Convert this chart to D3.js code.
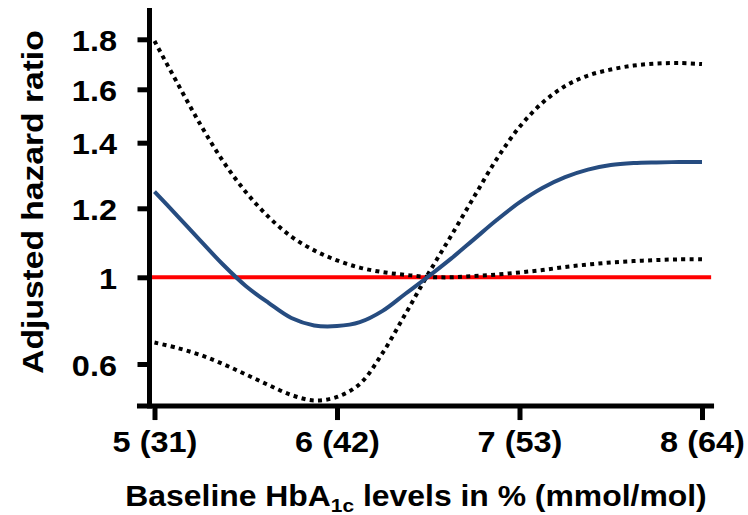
<!DOCTYPE html>
<html>
<head>
<meta charset="utf-8">
<script src="https://cdn.jsdelivr.net/npm/d3@7/dist/d3.min.js"></script>
<style>
  html, body { margin: 0; padding: 0; background: #fff; }
  svg { display: block; }
  text { font-family: "Liberation Sans", Arial, Helvetica, sans-serif; font-weight: bold; fill: #000; }
</style>
</head>
<body>
<svg id="chart" width="748" height="515"></svg>
<script>
// ---- data ----
const hba1c = [5.0, 5.125, 5.25, 5.375, 5.5, 5.625, 5.75, 5.875, 6.0, 6.125, 6.25, 6.375, 6.5,
               6.625, 6.75, 6.875, 7.0, 7.125, 7.25, 7.375, 7.5, 7.625, 7.75, 7.875, 8.0];
const hazardRatio = [1.251, 1.178, 1.107, 1.037, 0.960, 0.882, 0.812, 0.778, 0.775, 0.793, 0.845, 0.924, 1.002,
                     1.054, 1.110, 1.166, 1.218, 1.262, 1.295, 1.318, 1.332, 1.338, 1.340, 1.341, 1.341];
const ciBandA = [1.793, 1.625, 1.470, 1.344, 1.250, 1.175, 1.118, 1.078, 1.049, 1.028, 1.015, 1.007, 1.001,
                 1.000, 1.004, 1.008, 1.014, 1.021, 1.030, 1.037, 1.043, 1.047, 1.050, 1.052, 1.052];
const ciBandB = [0.699, 0.674, 0.642, 0.600, 0.552, 0.503, 0.457, 0.432, 0.448, 0.508, 0.651, 0.831, 1.010,
                 1.120, 1.234, 1.350, 1.459, 1.549, 1.613, 1.655, 1.679, 1.695, 1.703, 1.705, 1.701];
const referenceHR = 1;
const xTickValues = [5, 6, 7, 8];
const xTickLabels = ["5 (31)", "6 (42)", "7 (53)", "8 (64)"];
const yTickValues = [0.6, 1, 1.2, 1.4, 1.6, 1.8];
const yTickLabels = ["0.6", "1", "1.2", "1.4", "1.6", "1.8"];
const xAxisLimits = [4.904, 8.066];
const yAxisLimits = [0.406, 1.925];
const refLineLimits = [4.97, 8.05];

// ---- layout ----
const svg = d3.select("#chart");
const x = d3.scaleLinear().domain([5, 8]).range([154.5, 702]);
// the original axis is non-uniform: piecewise-linear between its labelled ticks
const y = d3.scaleLinear().domain(yTickValues).range([364, 277.3, 208.3, 142.7, 89.3, 39.3]);
const xAxisY = y(yAxisLimits[0]);
const yAxisX = 149.5;
const stretch = 1.12;

// reference line
svg.append("line")
  .attr("x1", x(refLineLimits[0])).attr("x2", x(refLineLimits[1]))
  .attr("y1", y(referenceHR)).attr("y2", y(referenceHR))
  .attr("stroke", "#ff0000").attr("stroke-width", 4);

const lineGen = vals => d3.line()
  .x((d, i) => x(hba1c[i]))
  .y(d => y(d))
  .curve(d3.curveCatmullRom.alpha(0.5))(vals);

[ciBandA, ciBandB].forEach(vals => {
  svg.append("path")
    .attr("d", lineGen(vals))
    .attr("fill", "none")
    .attr("stroke", "#000")
    .attr("stroke-width", 4)
    .attr("stroke-dasharray", "4 4.3");
});

svg.append("path")
  .attr("d", lineGen(hazardRatio))
  .attr("fill", "none")
  .attr("stroke", "#264c80")
  .attr("stroke-width", 4);

// axes
const yAxis = d3.axisLeft(y)
  .tickValues(yTickValues)
  .tickFormat((d, i) => yTickLabels[i])
  .tickSize(12).tickSizeOuter(0);
const gy = svg.append("g").attr("transform", `translate(${yAxisX},0)`).call(yAxis);
gy.select(".domain").remove();
gy.selectAll(".tick line").attr("stroke", "#000").attr("stroke-width", 5);
gy.selectAll(".tick text")
  .attr("x", 0).attr("dy", "0.38em")
  .attr("transform", `translate(-32.5,0) scale(${stretch},1)`)
  .attr("text-anchor", "end")
  .style("font-size", "29px").style("font-family", null);

const xAxis = d3.axisBottom(x)
  .tickValues(xTickValues)
  .tickFormat((d, i) => xTickLabels[i])
  .tickSize(14).tickSizeOuter(0);
const gx = svg.append("g").attr("transform", `translate(0,${xAxisY})`).call(xAxis);
gx.select(".domain").remove();
gx.selectAll(".tick line").attr("stroke", "#000").attr("stroke-width", 5);
gx.selectAll(".tick text")
  .attr("y", 0).attr("dy", 0)
  .attr("transform", `translate(0,46) scale(${stretch},1)`)
  .attr("text-anchor", "middle")
  .style("font-size", "29px").style("font-family", null);

// axis lines
svg.append("line")
  .attr("x1", yAxisX).attr("x2", yAxisX)
  .attr("y1", y(yAxisLimits[1])).attr("y2", xAxisY + 2.5)
  .attr("stroke", "#000").attr("stroke-width", 5);
svg.append("line")
  .attr("x1", x(xAxisLimits[0])).attr("x2", x(xAxisLimits[1]))
  .attr("y1", xAxisY).attr("y2", xAxisY)
  .attr("stroke", "#000").attr("stroke-width", 5);

// axis titles
const xt = svg.append("g").attr("transform", `translate(416,506) scale(1.1,1)`)
  .append("text").attr("text-anchor", "middle").style("font-size", "29px");
xt.append("tspan").text("Baseline HbA");
xt.append("tspan").attr("dy", 6).style("font-size", "19px").text("1c");
xt.append("tspan").attr("dy", -6).text(" levels in % (mmol/mol)");

svg.append("g").attr("transform", `translate(43,202) rotate(-90) scale(${stretch},1)`)
  .append("text").attr("text-anchor", "middle").style("font-size", "30px")
  .text("Adjusted hazard ratio");
</script>
</body>
</html>
